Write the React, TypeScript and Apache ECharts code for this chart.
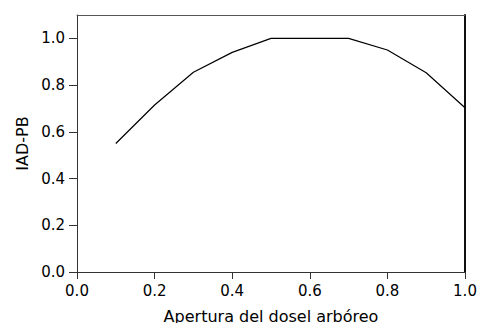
import React, { useEffect, useRef } from "react";
import * as echarts from "echarts";

const xValues = [0.1, 0.2, 0.3, 0.4, 0.5, 0.6, 0.7, 0.8, 0.9, 1.0];
const yValues = [0.55, 0.715, 0.855, 0.94, 1.0, 1.0, 1.0, 0.95, 0.853, 0.703];
const xTitle = "Apertura del dosel arbóreo";
const yTitle = "IAD-PB";

const FONT = "DejaVu Sans, Liberation Sans, Arial, sans-serif";
const AX = "#333";

export default function App() {
  const ref = useRef<HTMLDivElement>(null);
  useEffect(() => {
    if (!ref.current) return;
    const chart = echarts.init(ref.current, undefined, { renderer: "svg" });
    const data = xValues.map((x, i) => [x, yValues[i]]);
    chart.setOption({
      animation: false,
      backgroundColor: "#fff",
      grid: {
        left: 77,
        right: 14,
        top: 15,
        bottom: 51,
        containLabel: false,
        outerBoundsMode: "none",
      },
      xAxis: [
        {
          type: "value",
          min: 0,
          max: 1,
          interval: 0.2,
          position: "bottom",
          name: xTitle,
          nameLocation: "middle",
          nameGap: 36,
          nameTextStyle: { fontFamily: FONT, fontSize: 16, color: "#000" },
          axisLine: { show: true, onZero: false, lineStyle: { color: AX, width: 1 } },
          axisTick: { show: true, length: 7, lineStyle: { color: AX } },
          axisLabel: {
            fontFamily: FONT,
            fontSize: 15,
            color: "#000",
            margin: 11,
            formatter: (v: number) => v.toFixed(1),
          },
          splitLine: { show: false },
        },
        {
          type: "value",
          min: 0,
          max: 1,
          position: "top",
          axisLine: { show: true, onZero: false, lineStyle: { color: "#555", width: 1 } },
          axisTick: { show: false },
          axisLabel: { show: false },
          splitLine: { show: false },
        },
      ],
      yAxis: [
        {
          type: "value",
          min: 0,
          max: 1.1,
          interval: 0.2,
          position: "left",
          name: yTitle,
          nameLocation: "middle",
          nameGap: 45,
          nameTextStyle: { fontFamily: FONT, fontSize: 16, color: "#000" },
          axisLine: { show: true, onZero: false, lineStyle: { color: AX, width: 1 } },
          axisTick: { show: true, length: 8, lineStyle: { color: AX } },
          axisLabel: {
            fontFamily: FONT,
            fontSize: 15,
            color: "#000",
            margin: 12,
            showMaxLabel: false,
            formatter: (v: number) => (v > 1.05 ? "" : v.toFixed(1)),
          },
          splitLine: { show: false },
        },
        {
          type: "value",
          min: 0,
          max: 1.1,
          position: "right",
          axisLine: { show: true, onZero: false, lineStyle: { color: "#111", width: 2 } },
          axisTick: { show: false },
          axisLabel: { show: false },
          splitLine: { show: false },
        },
      ],
      series: [
        {
          type: "line",
          data,
          xAxisIndex: 0,
          yAxisIndex: 0,
          symbol: "none",
          lineStyle: { color: "#000", width: 1.2 },
        },
      ],
    });
    return () => chart.dispose();
  }, []);
  return (
    <div
      ref={ref}
      style={{ position: "fixed", left: 0, top: 0, width: 479, height: 323 }}
    />
  );
}
